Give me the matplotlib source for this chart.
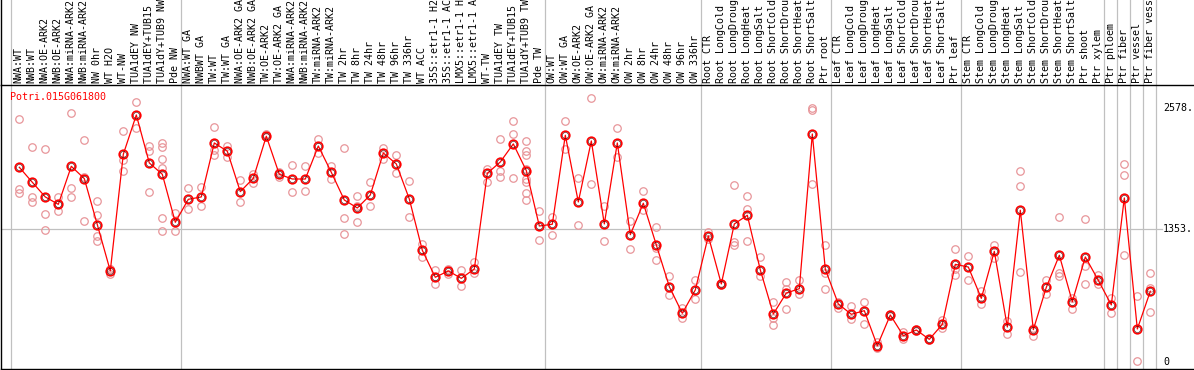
import numpy as np
import matplotlib
matplotlib.use("Agg")
import matplotlib.pyplot as plt
from matplotlib.lines import Line2D
import matplotlib.transforms as mtransforms

# 样本名称（按图中顺序）
labels = [
    "NWA:WT", "NWB:WT", "NWA:OE-ARK2", "NWB:OE-ARK2", "NWA:miRNA-ARK2", "NWB:miRNA-ARK2",
    "NW 0hr", "WT H2O", "WT-NW", "TUA1dEY NW", "TUA1dEY+TUB15 NW", "TUA1dY+TUB9 NW", "Pde NW",
    "NWA:WT GA", "NWBWT GA", "TW:WT", "TW:WT GA", "NWA:OE-ARK2 GA", "NWB:OE-ARK2 GA",
    "TW:OE-ARK2", "TW:OE-ARK2 GA", "NWA:miRNA-ARK2", "NWB:miRNA-ARK2", "TW:miRNA-ARK2",
    "TW:miRNA-ARK2", "TW 2hr", "TW 8hr", "TW 24hr", "TW 48hr", "TW 96hr", "TW 336hr", "WT ACC",
    "35S::etr1-1 H2O", "35S::etr1-1 ACC", "LMX5::etr1-1 H2O", "LMX5::etr1-1 ACC", "WT-TW",
    "TUA1dEY TW", "TUA1dEY+TUB15 TW", "TUA1dY+TUB9 TW", "Pde TW",
    "OW:WT", "OW:WT GA", "OW:OE-ARK2", "OW:OE-ARK2 GA", "OW:miRNA-ARK2", "OW:miRNA-ARK2",
    "OW 2hr", "OW 8hr", "OW 24hr", "OW 48hr", "OW 96hr", "OW 336hr",
    "Root CTR", "Root LongCold", "Root LongDrought", "Root LongHeat", "Root LongSalt",
    "Root ShortCold", "Root ShortDrought", "Root ShortHeat", "Root ShortSalt", "Ptr root",
    "Leaf CTR", "Leaf LongCold", "Leaf LongDrought", "Leaf LongHeat", "Leaf LongSalt",
    "Leaf ShortCold", "Leaf ShortDrought", "Leaf ShortHeat", "Leaf ShortSalt", "Ptr leaf",
    "Stem CTR", "Stem LongCold", "Stem LongDrought", "Stem LongHeat", "Stem LongSalt",
    "Stem ShortCold", "Stem ShortDrought", "Stem ShortHeat", "Stem ShortSalt", "Ptr shoot",
    "Ptr xylem", "Ptr phloem", "Ptr fiber", "Ptr vessel", "Ptr fiber vessel",
]

# 每组样本数（用于画分隔线）
group_sizes = [13, 28, 12, 10, 10, 11, 1, 1, 1, 1]

# 平均值
means = [
    1976, 1824, 1675, 1600, 1986, 1861, 1394, 924, 2108, 2507, 2020, 1905, 1418,
    1651, 1675, 2223, 2139, 1729, 1864, 2291, 1905, 1857, 1857, 2192, 1925, 1644,
    1563, 1695, 2121, 2010, 1654, 1134, 860, 924, 849, 944, 1915, 2030, 2213, 1942, 1380,
    1398, 2301, 1624, 2243, 1401, 2223, 1292, 1611, 1188, 765, 494, 731,
    1279, 792, 1401, 1489, 934, 487, 700, 744, 2314, 941,
    589, 484, 521, 165, 477, 267, 325, 230, 382, 991,
    964, 646, 1123, 355, 1540, 328, 758, 1083, 612, 1066, 829,
    579, 1665, 335, 718,
]

# 重复样本值
reps = [
    [2463, 1759, 1718], [2179, 1672, 1624], [2159, 1499, 1337], [1675, 1600, 1529],
    [2527, 1763, 1675], [2250, 1881, 1428], [1631, 1489, 1279, 1225], [941, 893, 940],
    [2345, 2047, 1939], [2636, 2375], [2192, 2139, 1726],
    [2223, 2186, 2057, 1966, 1462, 1327], [1512, 1327],
    [1763, 1550], [1776, 1580], [2385, 2155, 2104], [2192, 2084], [1847, 1624],
    [1908, 1820], [2314, 2281], [1929, 1881], [1996, 1722], [1986, 1733], [2260, 2118],
    [1989, 1861], [2169, 1462, 1299], [1682, 1583, 1418], [1824, 1583], [2172, 2064],
    [2101, 1915], [1834, 1472], [1201, 1069], [931, 795], [944, 893], [931, 768],
    [1018, 900], [1962, 1827], [2260, 1935, 1881], [2443, 2314, 1864],
    [2243, 2145, 2104, 1959, 1857, 1824, 1715, 1644], [1533, 1235],
    [1469, 1289], [2443, 2165], [1868, 1387], [2677, 1804], [1587, 1225], [2372, 2078],
    [1428, 1147], [1736, 1543], [1370, 1154, 1035], [870, 680], [551, 450], [829, 636],
    [1323, 1252], [800, 785], [1793, 1221, 1184], [1682, 1553, 1225], [1066, 870],
    [609, 450, 372], [812, 744, 538], [832, 687], [2581, 2558, 1804], [1188, 906, 738],
    [612, 545], [565, 440], [606, 383], [206, 142], [470, 485], [301, 230], [318, 332],
    [238, 222], [423, 341], [1143, 883, 947],
    [1076, 829], [724, 592], [1191, 1059], [419, 281], [1939, 1783, 910], [348, 267],
    [829, 687], [1469, 900, 873], [653, 541], [1448, 974, 789], [886, 792],
    [646, 494], [2010, 1895, 1083], [667, 10], [900, 748, 504],
]

gene = "Potri.015G061800"
ytick_vals = [2578, 1353, 0]
ytick_text = ["2578.", "1353.", "0"]

W, H = 1194, 370
fig = plt.figure(figsize=(W / 100, H / 100), dpi=100)
ax = fig.add_axes([1 / W, 1 / H, (W - 1) / W, 284 / H])

x = np.arange(len(labels))
ax.set_xlim(-1.408, 90.36)
ax.set_ylim(-71, 2811)

mono = "DejaVu Sans Mono"
fs = 7.2
red = "#ff0000"
pink = "#e8969a"
grey = "#c0c0c0"

# 分隔线
top_frac = (H - 1) / 284 + 0.01
bounds = np.cumsum(group_sizes) - 1 + 0.4
for b in np.concatenate([[-0.65], bounds]):
    ax.axvline(b, ymin=0, ymax=top_frac, color=grey, lw=0.9, clip_on=False, zorder=1)

# 中间水平参考线
ax.axhline(ytick_vals[1], xmin=0, xmax=0.973, color=grey, lw=0.9, zorder=1)

# 重复点
for xi, r in zip(x, reps):
    ax.plot([xi] * len(r), r, ls="none", marker="o", ms=5.4, mfc="none",
            mec=pink, mew=0.9, zorder=2)

# 平均值折线
ax.plot(x, means, color=red, lw=0.9, zorder=3)
ax.plot(x, means, ls="none", marker="o", ms=6.2, mfc="none", mec=red, mew=1.2, zorder=4)
ax.plot(x, means, ls="none", marker="o", ms=4.4, mfc="none", mec="#400000", mew=0.4, zorder=5)

# 样本标签（竖排，顶部超出部分与原图一样被裁掉）
off = mtransforms.offset_copy(ax.transData, fig=fig, x=0, y=2, units="dots")
for xi, lab in zip(x, labels):
    ax.text(xi - 0.05, ax.get_ylim()[1], lab, rotation=90, ha="center", va="bottom",
            fontsize=fs, family=mono, color="black", transform=off, clip_on=False)

# 左侧和顶部黑线
ax.add_line(Line2D([0, 0], [1, top_frac], transform=ax.transAxes, color="black",
                   lw=1.0, clip_on=False))
for s in ["left", "top", "bottom"]:
    ax.spines[s].set_color("black")
    ax.spines[s].set_linewidth(1.0)
ax.spines["right"].set_visible(False)

# y 轴数值标签
trans = mtransforms.blended_transform_factory(ax.transAxes, ax.transData)
for v, t in zip(ytick_vals, ytick_text):
    ax.text(0.974, v, t, ha="left", va="center", fontsize=fs, family=mono,
            color="black", transform=trans)

ax.text(0.0073, 0.958, gene, ha="left", va="center", fontsize=fs, family=mono,
        color=red, transform=ax.transAxes)

ax.set_xticks([])
ax.set_yticks([])

fig.savefig("out.png", dpi=100)
